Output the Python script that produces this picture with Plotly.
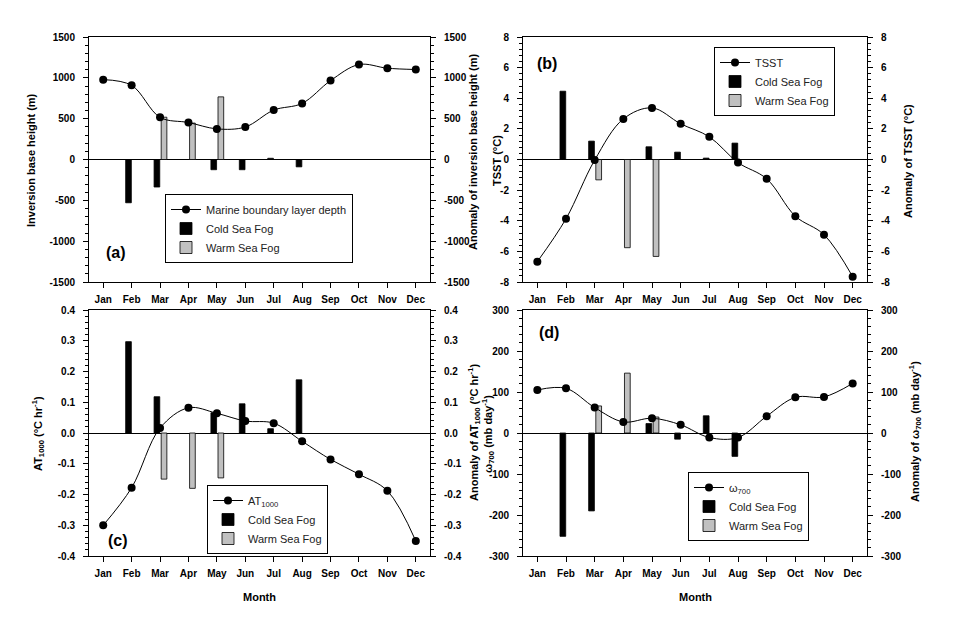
import plotly.graph_objects as go

months = ["Jan", "Feb", "Mar", "Apr", "May", "Jun", "Jul", "Aug", "Sep", "Oct", "Nov", "Dec"]

# (a) Inversion base height
mbl_depth = [978, 908, 516, 453, 375, 398, 605, 687, 966, 1163, 1118, 1102]
mbl_cold = [None, -530, -337, None, -125, -125, 15, -90, None, None, None, None]
mbl_warm = [None, None, 518, 446, 767, None, None, None, None, None, None, None]
ticks_a = [-1500, -1000, -500, 0, 500, 1000, 1500]
labels_a = ["-1500", "-1000", "-500", "0", "500", "1000", "1500"]

# (b) TSST
tsst = [-6.67, -3.87, -0.04, 2.65, 3.37, 2.33, 1.48, -0.2, -1.26, -3.7, -4.91, -7.65]
tsst_cold = [None, 4.46, 1.2, None, 0.83, 0.48, 0.09, 1.07, None, None, None, None]
tsst_warm = [None, None, -1.33, -5.76, -6.33, None, None, None, None, None, None, None]
ticks_b = [-8, -6, -4, -2, 0, 2, 4, 6, 8]
labels_b = ["-8", "-6", "-4", "-2", "0", "2", "4", "6", "8"]

# (c) AT1000
at1000 = [-0.30, -0.178, 0.016, 0.082, 0.064, 0.039, 0.032, -0.027, -0.086, -0.134, -0.188, -0.351]
at_cold = [None, 0.297, 0.118, None, 0.066, 0.095, 0.014, 0.173, None, None, None, None]
at_warm = [None, None, -0.150, -0.180, -0.146, None, None, None, None, None, None, None]
ticks_c = [-0.4, -0.3, -0.2, -0.1, 0.0, 0.1, 0.2, 0.3, 0.4]
labels_c = ["-0.4", "-0.3", "-0.2", "-0.1", "0.0", "0.1", "0.2", "0.3", "0.4"]

# (d) omega700
omega = [105, 109, 62, 27, 36, 20, -11, -11, 41, 87, 88, 121]
om_cold = [None, -252, -190, None, 23, -15, 42, -57, None, None, None, None]
om_warm = [None, None, 66, 146, 39, None, None, None, None, None, None, None]
ticks_d = [-300, -200, -100, 0, 100, 200, 300]
labels_d = ["-300", "-200", "-100", "0", "100", "200", "300"]

W, H = 954, 619
FONT = "Arial, Liberation Sans, sans-serif"

panels = [
    dict(line=mbl_depth, cold=mbl_cold, warm=mbl_warm, name="Marine boundary layer depth",
         rng=[-1500, 1500], tv=ticks_a, tt=labels_a, minor=100,
         px=(89, 430), py=(37, 282), label="(a)", labpos=(116, 253),
         leg=(165, 194),
         ltitle="Inversion base height (m)", ltpos=(31, 160),
         rtitle="Anomaly of inversion base height (m)", rtpos=(473, 152)),
    dict(line=tsst, cold=tsst_cold, warm=tsst_warm, name="TSST",
         rng=[-8, 8], tv=ticks_b, tt=labels_b, minor=0.4,
         px=(523, 867), py=(37, 282), label="(b)", labpos=(547, 63),
         leg=(714, 47),
         ltitle="TSST (°C)", ltpos=(497, 161),
         rtitle="Anomaly of TSST (°C)", rtpos=(908, 161)),
    dict(line=at1000, cold=at_cold, warm=at_warm, name="AT<sub>1000</sub>",
         rng=[-0.4, 0.4], tv=ticks_c, tt=labels_c, minor=0.02,
         px=(89, 430), py=(310, 556), label="(c)", labpos=(118, 540),
         leg=(207, 485),
         ltitle="AT<sub>1000</sub> (°C hr<sup>-1</sup>)", ltpos=(38, 434),
         rtitle="Anomaly of AT<sub>1000</sub> (°C hr<sup>-1</sup>)", rtpos=(474, 433)),
    dict(line=omega, cold=om_cold, warm=om_warm, name="ω<sub>700</sub>",
         rng=[-300, 300], tv=ticks_d, tt=labels_d, minor=20,
         px=(523, 867), py=(310, 556), label="(d)", labpos=(549, 332),
         leg=(688, 472),
         ltitle="ω<sub>700</sub> (mb day<sup>-1</sup>)", ltpos=(488, 434),
         rtitle="Anomaly of ω<sub>700</sub> (mb day<sup>-1</sup>)", rtpos=(915, 432)),
]

fig = go.Figure()
layout = dict(width=W, height=H, margin=dict(l=0, r=0, t=0, b=0),
              paper_bgcolor="white", plot_bgcolor="white",
              barmode="overlay", showlegend=True,
              font=dict(family=FONT, color="black", size=11))
annotations = []
xs = list(range(12))

tickfont = dict(family=FONT, size=10, color="black", weight="bold")
titlefont = dict(family=FONT, size=11, color="black", weight="bold")

for i, p in enumerate(panels, start=1):
    xa = "x" if i == 1 else f"x{i}"
    ly_n = 2 * i - 1
    ry_n = 2 * i
    ly = "y" if ly_n == 1 else f"y{ly_n}"
    ry = f"y{ry_n}"
    leg = "legend" if i == 1 else f"legend{i}"

    fig.add_trace(go.Scatter(x=xs, y=p["line"], mode="lines+markers", name=p["name"],
                             line=dict(color="black", width=1, shape="spline", smoothing=1.0),
                             marker=dict(color="black", size=8),
                             xaxis=xa, yaxis=ly, legend=leg))
    fig.add_trace(go.Bar(x=xs, y=p["cold"], name="Cold Sea Fog", width=0.2, offset=-0.21,
                         marker=dict(color="black", line=dict(color="black", width=0.8)),
                         xaxis=xa, yaxis=ly, legend=leg))
    fig.add_trace(go.Bar(x=xs, y=p["warm"], name="Warm Sea Fog", width=0.2, offset=0.04,
                         marker=dict(color="#c0c0c0", line=dict(color="black", width=0.8)),
                         xaxis=xa, yaxis=ly, legend=leg))
    # invisible trace to anchor the right axis
    fig.add_trace(go.Scatter(x=[0], y=[0], mode="markers", marker=dict(opacity=0),
                             showlegend=False, hoverinfo="skip", xaxis=xa, yaxis=ry))

    xdom = [p["px"][0] / W, p["px"][1] / W]
    ydom = [1 - p["py"][1] / H, 1 - p["py"][0] / H]
    xkey = "xaxis" if i == 1 else f"xaxis{i}"
    layout[xkey] = dict(domain=xdom, anchor=ly, range=[-0.5, 11.5],
                        tickmode="array", tickvals=xs, ticktext=months,
                        ticks="outside", ticklen=5, tickcolor="black", ticklabelstandoff=3,
                        showline=True, linecolor="black", linewidth=1, mirror=True,
                        showgrid=False, zeroline=False, tickfont=tickfont, automargin=False)
    ykey = "yaxis" if ly_n == 1 else f"yaxis{ly_n}"
    yax = dict(domain=ydom, anchor=xa, range=p["rng"],
               tickmode="array", tickvals=p["tv"], ticktext=p["tt"],
               ticks="outside", ticklen=5, tickcolor="black", ticklabelstandoff=6,
               minor=dict(tickmode="linear", tick0=0, dtick=p["minor"], ticks="outside",
                          ticklen=3, tickcolor="black", showgrid=False),
               showline=True, linecolor="black", linewidth=1,
               showgrid=False, zeroline=True, zerolinecolor="black", zerolinewidth=1,
               tickfont=tickfont, automargin=False)
    layout[ykey] = yax
    ryax = dict(yax)
    ryax.update(dict(overlaying=ly, side="right", anchor=xa, zeroline=False))
    ryax.pop("domain")
    layout[f"yaxis{ry_n}"] = ryax

    layout[leg] = dict(x=p["leg"][0] / W, y=1 - p["leg"][1] / H, xanchor="left", yanchor="top",
                       bgcolor="white", bordercolor="black", borderwidth=1,
                       font=dict(family=FONT, size=11, color="#222"),
                       tracegroupgap=0)

    annotations.append(dict(text=p["label"], x=p["labpos"][0] / W, y=1 - p["labpos"][1] / H,
                            xref="paper", yref="paper", showarrow=False,
                            xanchor="center", yanchor="middle",
                            font=dict(family=FONT, size=16, color="black", weight="bold")))
    annotations.append(dict(text=p["ltitle"], x=p["ltpos"][0] / W, y=1 - p["ltpos"][1] / H,
                            xref="paper", yref="paper", showarrow=False, textangle=-90,
                            xanchor="center", yanchor="middle", font=titlefont))
    annotations.append(dict(text=p["rtitle"], x=p["rtpos"][0] / W, y=1 - p["rtpos"][1] / H,
                            xref="paper", yref="paper", showarrow=False, textangle=-90,
                            xanchor="center", yanchor="middle", font=titlefont))

for cx in (259.5, 695):
    annotations.append(dict(text="Month", x=cx / W, y=1 - 597 / H, xref="paper", yref="paper",
                            showarrow=False, xanchor="center", yanchor="middle", font=titlefont))

layout["annotations"] = annotations
fig.update_layout(**layout)
fig.write_html("out.html", config={"displayModeBar": False},
               post_script="document.body.style.margin='0px';")
